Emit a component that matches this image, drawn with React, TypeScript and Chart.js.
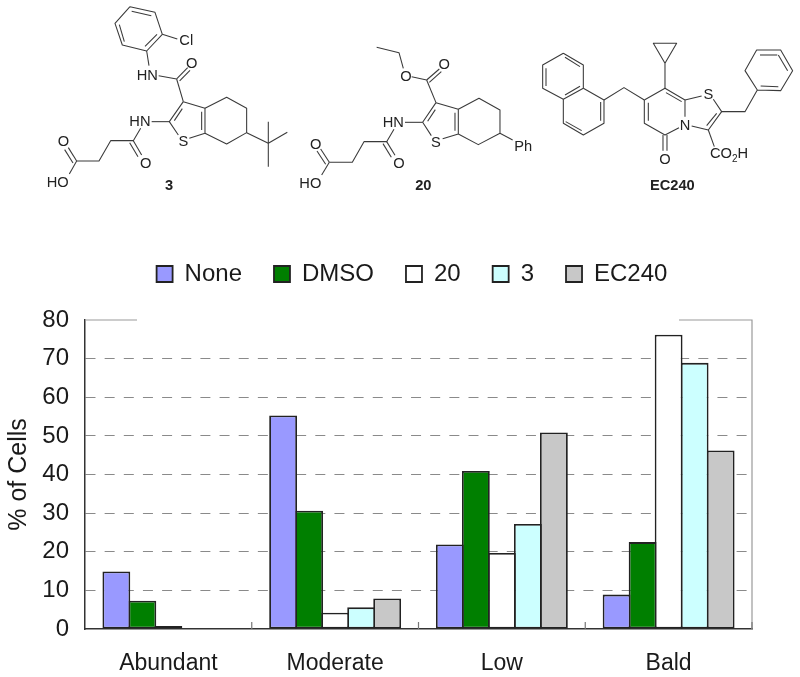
import React, { useEffect, useRef } from "react";
import { Chart, registerables } from "chart.js";

Chart.register(...registerables);

const categories = ["Abundant", "Moderate", "Low", "Bald"];
const none = [14.9, 55.3, 21.9, 8.9];
const dmso = [7.3, 30.6, 40.9, 22.5];
const cpd20 = [0.8, 4.2, 19.7, 76.2];
const cpd3 = [0, 5.6, 27.2, 68.9];
const ec240 = [0, 7.9, 50.9, 46.2];
const yTicks = [0, 10, 20, 30, 40, 50, 60, 70, 80];

const FONT = "'Liberation Sans', Arial, sans-serif";
const INK = "#1a1a1a";

const framePlugin = {
  id: "frame",
  afterLayout(chart: any) {
    const l = chart.legend;
    if (l) {
      l.left += 36;
      l.right += 36;
      l.top -= 24;
      l.bottom -= 24;
      l.adjustHitBoxes && l.adjustHitBoxes();
    }
  },
  beforeDatasetsDraw(chart: any) {
    const { ctx, chartArea: a, scales } = chart;
    ctx.save();
    ctx.lineWidth = 1.2;
    ctx.strokeStyle = "#9a9a9a";
    ctx.beginPath();
    ctx.moveTo(a.left, a.top);
    ctx.lineTo(137, a.top);
    ctx.moveTo(679, a.top);
    ctx.lineTo(a.right, a.top);
    ctx.lineTo(a.right, a.bottom);
    ctx.stroke();
    ctx.strokeStyle = "#777";
    ctx.beginPath();
    const step = scales.x.width / categories.length;
    for (let i = 1; i <= categories.length; i++) {
      const x = scales.x.left + step * i;
      ctx.moveTo(x, a.bottom);
      ctx.lineTo(x, a.bottom - 7);
    }
    ctx.stroke();
    ctx.restore();
  },
};

type B = number[];
function Bonds({ list }: { list: B[] }) {
  return (
    <>
      {list.map((p, i) => (
        <polyline key={i} points={p.join(" ")} fill="none" stroke="#3a3a3a" strokeWidth={3.2} strokeLinejoin="round" />
      ))}
    </>
  );
}
function T({ x, y, s, anchor = "start", bold = false, size = 44 }: any) {
  return (
    <text x={x} y={y} fontSize={size} fontFamily={FONT} fontWeight={bold ? "bold" : "normal"} textAnchor={anchor} fill="#222">
      {s}
    </text>
  );
}

const mol3: B[] = [
  [330, 20, 405, 37, 427, 103, 380, 153, 307, 135, 285, 70, 330, 20],
  [335, 34, 394, 47], [411, 103, 375, 139], [313, 125, 298, 74],
  [427, 103, 472, 117], [380, 153, 387, 197], [416, 227, 470, 237],
  [470, 237, 503, 203], [479, 243, 510, 211], [470, 237, 490, 305],
  [490, 305, 555, 325, 555, 400, 508, 415], [490, 305, 448, 365, 475, 405],
  [487, 326, 463, 362], [545, 335, 545, 390], [448, 365, 395, 365],
  [555, 325, 620, 292, 680, 325, 680, 398, 620, 432, 555, 400],
  [680, 398, 745, 430], [745, 365, 745, 500], [745, 430, 802, 397],
  [362, 385, 340, 422, 272, 422, 237, 483, 170, 483], [340, 422, 365, 465], [329, 428, 354, 470],
  [170, 483, 145, 443], [159, 489, 134, 449], [170, 483, 148, 522],
];
const mol20: B[] = [
  [320, 142, 387, 158, 400, 205], [425, 230, 470, 240], [470, 240, 508, 207], [478, 247, 514, 215],
  [470, 240, 498, 308], [498, 308, 565, 328, 565, 402, 518, 416], [498, 308, 458, 367, 484, 407],
  [496, 329, 473, 364], [555, 338, 555, 392], [458, 367, 405, 367],
  [565, 328, 627, 295, 690, 330, 690, 400, 625, 434, 565, 402], [690, 400, 728, 420],
  [372, 388, 350, 425, 282, 425, 247, 487, 178, 487], [350, 425, 375, 466], [339, 431, 364, 472],
  [178, 487, 152, 447], [167, 493, 141, 453], [178, 487, 155, 525],
];
const molEC: B[] = [
  [100, 160, 160, 195, 160, 265, 100, 298, 38, 265, 38, 195, 100, 160],
  [105, 172, 150, 200], [48, 205, 48, 258], [105, 285, 150, 259],
  [160, 265, 222, 300, 222, 370, 160, 405, 100, 370, 100, 298],
  [212, 306, 212, 362], [107, 365, 155, 392],
  [222, 300, 282, 263, 343, 300],
  [343, 300, 405, 265, 465, 300, 465, 350], [447, 383, 405, 405, 343, 370, 343, 300],
  [408, 278, 455, 305], [355, 308, 355, 362],
  [405, 265, 405, 190, 370, 130, 440, 130, 405, 190],
  [465, 300, 515, 288], [550, 298, 575, 335, 535, 390, 485, 378], [560, 340, 530, 377],
  [575, 335, 645, 335, 682, 270, 645, 212, 680, 150, 752, 150, 788, 212, 752, 272, 682, 270],
  [692, 258, 745, 260], [690, 165, 742, 165], [773, 212, 745, 165],
  [399, 405, 399, 452], [411, 405, 411, 452], [535, 390, 553, 440],
];

function Molecules() {
  return (
    <svg width={800} height={210} viewBox="0 0 800 210" style={{ position: "absolute", left: 0, top: 0 }}>
      <g transform="translate(20,0) scale(0.3333)">
        <Bonds list={mol3} />
        <T x={478} y={135} s="Cl" />
        <T x={350} y={240} s="HN" />
        <T x={515} y={204} s="O" anchor="middle" />
        <T x={490} y={438} s="S" anchor="middle" />
        <T x={328} y={379} s="HN" />
        <T x={377} y={503} s="O" anchor="middle" />
        <T x={130} y={439} s="O" anchor="middle" />
        <T x={80} y={562} s="HO" />
        <T x={447} y={570} s="3" anchor="middle" bold />
      </g>
      <g transform="translate(270,0) scale(0.3333)">
        <Bonds list={mol20} />
        <T x={408} y={243} s="O" anchor="middle" />
        <T x={523} y={206} s="O" anchor="middle" />
        <T x={498} y={441} s="S" anchor="middle" />
        <T x={338} y={381} s="HN" />
        <T x={387} y={504} s="O" anchor="middle" />
        <T x={137} y={446} s="O" anchor="middle" />
        <T x={88} y={565} s="HO" />
        <T x={733} y={453} s="Ph" />
        <T x={460} y={571} s="20" anchor="middle" bold />
      </g>
      <g transform="translate(530,0) scale(0.3333)">
        <Bonds list={molEC} />
        <T x={535} y={296} s="S" anchor="middle" />
        <T x={465} y={389} s="N" anchor="middle" />
        <T x={405} y={491} s="O" anchor="middle" />
        <text x={540} y={475} fontSize={44} fontFamily={FONT} fill="#222">
          CO<tspan fontSize={30} dy={10}>2</tspan><tspan dy={-10}>H</tspan>
        </text>
        <T x={427} y={570} s="EC240" anchor="middle" bold />
      </g>
    </svg>
  );
}

export default function App() {
  const ref = useRef<HTMLCanvasElement>(null);
  useEffect(() => {
    const common = { borderColor: "#222", borderWidth: 1.8, borderSkipped: false, barPercentage: 1.07, categoryPercentage: 0.78 };
    const chart = new Chart(ref.current!, {
      type: "bar",
      data: {
        labels: categories,
        datasets: [
          { label: "None", data: none, backgroundColor: "#9999FF", ...common },
          { label: "DMSO", data: dmso, backgroundColor: "#007F00", ...common },
          { label: "20", data: cpd20, backgroundColor: "#FFFFFF", ...common },
          { label: "3", data: cpd3, backgroundColor: "#CCFFFF", ...common },
          { label: "EC240", data: ec240, backgroundColor: "#C8C8C8", ...common },
        ],
      },
      options: {
        responsive: false,
        animation: false,
        layout: { padding: { top: 254, right: 48, left: 0, bottom: 0 } },
        plugins: {
          tooltip: { enabled: false },
          legend: {
            position: "top",
            labels: { boxWidth: 16, boxHeight: 16, padding: 32, color: INK, font: { family: FONT, size: 24 } },
          },
        },
        scales: {
          x: {
            offset: true,
            afterFit: (s: any) => { s.height = 48; },
            grid: { display: false },
            border: { color: "#333", width: 1.5 },
            ticks: { color: INK, padding: 13, font: { family: FONT, size: 23 }, maxRotation: 0 },
          },
          y: {
            min: 0,
            max: 80,
            afterFit: (s: any) => { s.width = 85; },
            afterBuildTicks: (s: any) => { s.ticks = yTicks.map((value) => ({ value })); },
            grid: {
              drawTicks: false,
              tickLength: 0,
              lineWidth: 1,
              color: (c: any) => (c.tick && (c.tick.value === 0 || c.tick.value === 80) ? "rgba(0,0,0,0)" : "#8a8a8a"),
            },
            border: { color: "#333", width: 1.5, dash: [10, 9.15], dashOffset: 0 },
            ticks: { color: INK, padding: 16, font: { family: FONT, size: 24 } },
            title: { display: true, text: "% of Cells", color: INK, padding: { top: 4, bottom: 0 }, font: { family: FONT, size: 25 } },
          },
        },
      },
      plugins: [framePlugin],
    } as any);
    return () => chart.destroy();
  }, []);
  return (
    <div style={{ position: "absolute", left: 0, top: 0, width: 800, height: 677, background: "#fff", overflow: "hidden" }}>
      <canvas ref={ref} width={800} height={677} style={{ display: "block" }} />
      <Molecules />
    </div>
  );
}
